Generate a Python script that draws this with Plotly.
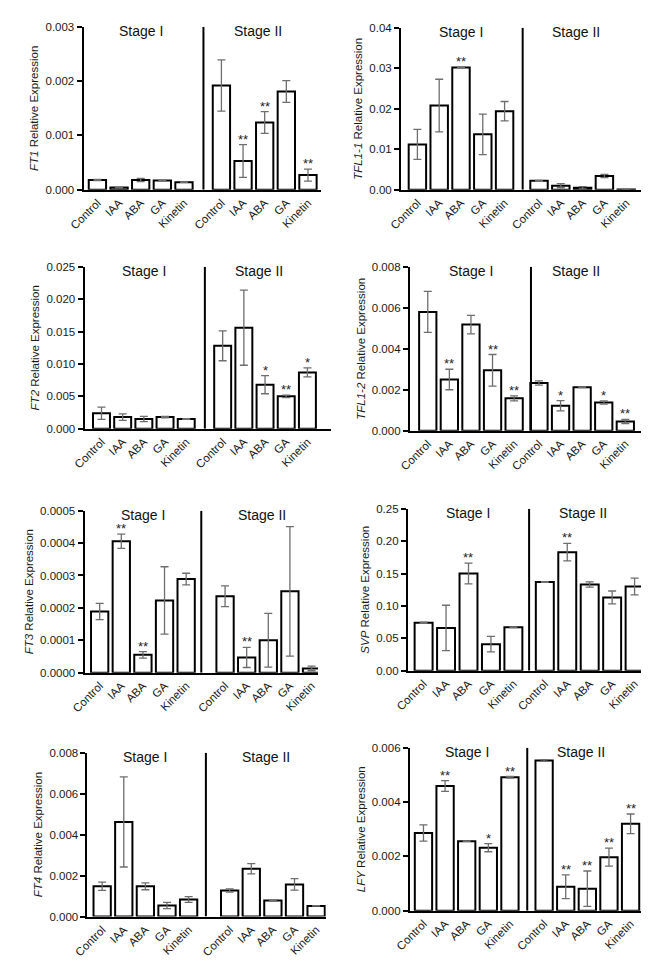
import plotly.graph_objects as go

treatments = ["Control", "IAA", "ABA", "GA", "Kinetin"]
stage_names = ["Stage I", "Stage II"]

# values: mean, error, significance per stage
ft1_s1 = [0.00018, 0.00004, 0.00018, 0.00017, 0.00014]
ft1_s1_err = [0.00001, 0.000005, 0.00003, 0.000005, 0.000005]
ft1_s1_sig = ["", "", "", "", ""]
ft1_s2 = [0.00192, 0.00053, 0.00124, 0.00181, 0.00027]
ft1_s2_err = [0.00047, 0.0003, 0.0002, 0.0002, 0.00011]
ft1_s2_sig = ["", "**", "**", "", "**"]

tfl11_s1 = [0.0112, 0.0208, 0.0302, 0.0137, 0.0194]
tfl11_s1_err = [0.0037, 0.0065, 0.0001, 0.005, 0.0024]
tfl11_s1_sig = ["", "", "**", "", ""]
tfl11_s2 = [0.0022, 0.0010, 0.0005, 0.0034, 0.00005]
tfl11_s2_err = [0.0001, 0.0005, 0.0003, 0.0004, 0.00002]
tfl11_s2_sig = ["", "", "", "", ""]

ft2_s1 = [0.0024, 0.0018, 0.0015, 0.0018, 0.0015]
ft2_s1_err = [0.00095, 0.0005, 0.0004, 0.0001, 0.00005]
ft2_s1_sig = ["", "", "", "", ""]
ft2_s2 = [0.0128, 0.0156, 0.0068, 0.0050, 0.0087]
ft2_s2_err = [0.0023, 0.0058, 0.0014, 0.0002, 0.0007]
ft2_s2_sig = ["", "", "*", "**", "*"]

tfl12_s1 = [0.0058, 0.0025, 0.00518, 0.00295, 0.00158]
tfl12_s1_err = [0.001, 0.0005, 0.00045, 0.00077, 0.00012]
tfl12_s1_sig = ["", "**", "", "**", "**"]
tfl12_s2 = [0.00233, 0.00122, 0.00212, 0.00138, 0.00045]
tfl12_s2_err = [0.0001, 0.00025, 0.00002, 0.00008, 0.0001]
tfl12_s2_sig = ["", "*", "", "*", "**"]

ft3_s1 = [0.000189, 0.000406, 0.000055, 0.000223, 0.000289]
ft3_s1_err = [0.000025, 0.000022, 0.00001, 0.000104, 0.000018]
ft3_s1_sig = ["", "**", "**", "", ""]
ft3_s2 = [0.000236, 0.000047, 0.0001, 0.000251, 0.000013]
ft3_s2_err = [0.000032, 0.000031, 0.000083, 0.0002, 0.000007]
ft3_s2_sig = ["", "**", "", "", ""]

svp_s1 = [0.074, 0.066, 0.150, 0.041, 0.067]
svp_s1_err = [0.001, 0.035, 0.016, 0.012, 0.0005]
svp_s1_sig = ["", "", "**", "", ""]
svp_s2 = [0.137, 0.183, 0.133, 0.113, 0.130]
svp_s2_err = [0.0005, 0.0135, 0.004, 0.01, 0.013]
svp_s2_sig = ["", "**", "", "", ""]

ft4_s1 = [0.00148, 0.00462, 0.00148, 0.00054, 0.00083]
ft4_s1_err = [0.0002, 0.0022, 0.00017, 0.00015, 0.00014]
ft4_s1_sig = ["", "", "", "", ""]
ft4_s2 = [0.00127, 0.00233, 0.00078, 0.00157, 0.00052]
ft4_s2_err = [0.00008, 0.00025, 0.00002, 0.00028, 0.00001]
ft4_s2_sig = ["", "", "", "", ""]

lfy_s1 = [0.00286, 0.00459, 0.00256, 0.00232, 0.00491]
lfy_s1_err = [0.0003, 0.0002, 0.00001, 0.00015, 0.00003]
lfy_s1_sig = ["", "**", "", "*", "**"]
lfy_s2 = [0.00553, 0.00088, 0.00081, 0.00197, 0.0032]
lfy_s2_err = [0.00003, 0.00044, 0.00065, 0.00033, 0.00036]
lfy_s2_sig = ["", "**", "**", "**", "**"]

panels = [
    ("FT1", ft1_s1, ft1_s1_err, ft1_s1_sig, ft1_s2, ft1_s2_err, ft1_s2_sig, 0.003, 0.001, ".3f"),
    ("TFL1-1", tfl11_s1, tfl11_s1_err, tfl11_s1_sig, tfl11_s2, tfl11_s2_err, tfl11_s2_sig, 0.04, 0.01, ".2f"),
    ("FT2", ft2_s1, ft2_s1_err, ft2_s1_sig, ft2_s2, ft2_s2_err, ft2_s2_sig, 0.025, 0.005, ".3f"),
    ("TFL1-2", tfl12_s1, tfl12_s1_err, tfl12_s1_sig, tfl12_s2, tfl12_s2_err, tfl12_s2_sig, 0.008, 0.002, ".3f"),
    ("FT3", ft3_s1, ft3_s1_err, ft3_s1_sig, ft3_s2, ft3_s2_err, ft3_s2_sig, 0.0005, 0.0001, ".4f"),
    ("SVP", svp_s1, svp_s1_err, svp_s1_sig, svp_s2, svp_s2_err, svp_s2_sig, 0.25, 0.05, ".2f"),
    ("FT4", ft4_s1, ft4_s1_err, ft4_s1_sig, ft4_s2, ft4_s2_err, ft4_s2_sig, 0.008, 0.002, ".3f"),
    ("LFY", lfy_s1, lfy_s1_err, lfy_s1_sig, lfy_s2, lfy_s2_err, lfy_s2_sig, 0.006, 0.002, ".3f"),
]

# pixel box (left, right, top, bottom) + left pad, group gap, right pad, divider (x units)
geometry = [
    (62, 305, 13, 178, 0.64, 0.73, 0.60, 4.90),
    (387, 638, 14, 178, 0.75, 0.58, 0.92, 4.83),
    (63, 315, 256, 420, 0.80, 0.72, 1.10, 4.88),
    (396, 640, 256, 422, 0.83, 0.15, 1.06, 4.78),
    (63, 302, 503, 667, 0.70, 0.80, 0.30, 4.70),
    (394, 641, 501, 665, 0.70, 0.40, 0.65, 4.70),
    (66, 310, 748, 914, 0.68, 0.90, 0.45, 4.80),
    (396, 637, 743, 908, 0.63, 0.58, 0.68, 4.80),
]

W, H = 649, 961
FONT = "Liberation Sans, Arial, sans-serif"

fig = go.Figure()
annotations = []
shapes = []

for k, (panel, geo) in enumerate(zip(panels, geometry)):
    gene, s1, e1, g1, s2, e2, g2, ymax, dtick, fmt = panel
    left, right, top, bottom, lpad, gap, rpad, div = geo
    n = "" if k == 0 else str(k + 1)
    xa, ya = "x" + n, "y" + n

    xs = list(range(5)) + [5 + gap + i for i in range(5)]
    ys = s1 + s2
    errs = e1 + e2
    sigs = g1 + g2

    fig.add_trace(go.Bar(
        x=xs, y=ys, xaxis=xa, yaxis=ya, width=0.8,
        marker=dict(color="white", line=dict(color="black", width=2)),
        error_y=dict(type="data", array=errs, visible=True, color="#6e6e6e",
                     thickness=1.3, width=4),
        showlegend=False,
    ))

    fig.layout["xaxis" + n] = dict(
        domain=[left / W, right / W], anchor=ya,
        range=[-lpad, 9 + gap + rpad],
        tickvals=xs, ticktext=treatments * 2, tickangle=-45,
        ticks="", showgrid=False, zeroline=False,
        showline=True, linecolor="black", linewidth=2,
        tickfont=dict(family=FONT, size=11.5, color="#1a1a1a"),
    )
    fig.layout["yaxis" + n] = dict(
        domain=[1 - bottom / H, 1 - top / H], anchor=xa,
        range=[0, ymax], dtick=dtick, tick0=0, tickformat=fmt,
        ticks="outside", ticklen=5, tickwidth=1.5, tickcolor="black",
        showgrid=False, zeroline=False,
        showline=True, linecolor="black", linewidth=2,
        tickfont=dict(family=FONT, size=11.5, color="#1a1a1a"),
        title=dict(text="<i>" + gene + "</i> Relative Expression",
                   font=dict(family=FONT, size=11.5, color="#1a1a1a"), standoff=4),
    )

    shapes.append(dict(type="line", xref=xa, yref=ya, x0=div, x1=div, y0=0, y1=ymax,
                       line=dict(color="black", width=2)))

    for name, cx in zip(stage_names, [2.0, 7 + gap - 0.3]):
        annotations.append(dict(
            text=name, xref=xa, yref=ya + " domain", x=cx, y=1, yshift=-4,
            xanchor="center", yanchor="middle", showarrow=False,
            font=dict(family=FONT, size=14, color="#111"),
        ))

    for x, y, e, s in zip(xs, ys, errs, sigs):
        if s:
            annotations.append(dict(
                text=s, xref=xa, yref=ya, x=x, y=y + e, yshift=-4,
                xanchor="center", yanchor="bottom", showarrow=False,
                font=dict(family=FONT, size=13, color="#222"),
            ))

fig.update_layout(
    width=W, height=H,
    margin=dict(l=0, r=0, t=0, b=0),
    paper_bgcolor="white", plot_bgcolor="white",
    bargap=0.2,
    shapes=shapes, annotations=annotations,
    font=dict(family=FONT),
)

fig.write_html("out.html")
